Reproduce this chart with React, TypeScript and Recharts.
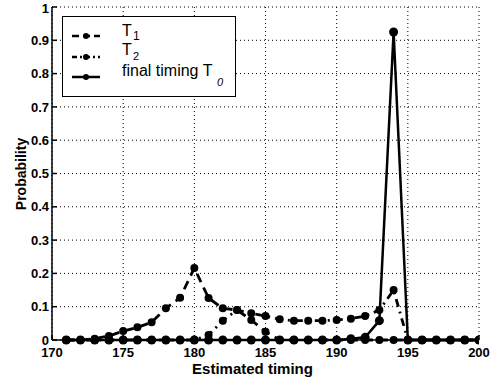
import React from 'react'
import { LineChart, Line, XAxis, YAxis, CartesianGrid, Legend, Label } from 'recharts'

const timing = [171, 172, 173, 174, 175, 176, 177, 178, 179, 180, 181, 182, 183, 184, 185, 186, 187, 188, 189, 190, 191, 192, 193, 194, 195, 196, 197, 198, 199, 200]
const t1 = [0, 0, 0.004, 0.012, 0.027, 0.038, 0.053, 0.095, 0.127, 0.216, 0.126, 0.095, 0.09, 0.06, 0.025, 0, 0, 0, 0, 0, 0, 0, 0, 0, 0, 0, 0, 0, 0, 0]
const t2 = [0, 0, 0, 0, 0, 0, 0, 0, 0, 0, 0.015, 0.058, 0.09, 0.08, 0.072, 0.062, 0.058, 0.058, 0.058, 0.06, 0.064, 0.072, 0.09, 0.15, 0, 0, 0, 0, 0, 0]
const t0 = [0, 0, 0, 0, 0, 0, 0, 0, 0, 0, 0, 0, 0, 0, 0, 0, 0, 0, 0, 0, 0.004, 0.008, 0.058, 0.925, 0, 0, 0, 0, 0, 0]

const xTicks = [170, 175, 180, 185, 190, 195, 200]
const yTicks = [0, 0.1, 0.2, 0.3, 0.4, 0.5, 0.6, 0.7, 0.8, 0.9, 1]

const data = timing.map((x, i) => ({ x, t1: t1[i], t2: t2[i], t0: t0[i] }))

const FONT = '"Liberation Sans", Arial, Helvetica, sans-serif'
const tickStyle = { fill: '#000', fontSize: 13, fontWeight: 700, fontFamily: FONT }
const axisLine = { stroke: '#000', strokeWidth: 1.5 }

// legend rows (sub = subscript after the text)
const legendRows = [
  { label: 'T', sub: '1', dash: '7 4', lineY: 18.5, top: 5.5, subTop: 13, subLeft: 70, subSize: 12 },
  { label: 'T', sub: '2', dash: '5 3 2 3', lineY: 39.5, top: 25, subTop: 33.5, subLeft: 70, subSize: 11 },
  { label: 'final timing T', sub: '0', dash: undefined, lineY: 59.5, top: 45.5, subTop: 60, subLeft: 154, subSize: 11 },
]

const LegendBox = () => (
  <div style={{ position: 'relative', boxSizing: 'border-box', width: 174, height: 81, border: '1.5px solid #000', background: '#fff', fontFamily: FONT, color: '#000' }}>
    {legendRows.map((r, i) => (
      <div key={i}>
        <svg width={32} height={10} style={{ position: 'absolute', left: 7, top: r.lineY - 5 }}>
          <line x1={2} y1={5} x2={30} y2={5} stroke="#000" strokeWidth={2.5} strokeDasharray={r.dash} />
          <circle cx={16} cy={5} r={3} fill="#000" />
        </svg>
        <span style={{ position: 'absolute', left: 59, top: r.top, fontSize: 16, lineHeight: 1, whiteSpace: 'nowrap' }}>{r.label}</span>
        <span style={{ position: 'absolute', left: r.subLeft, top: r.subTop, fontSize: r.subSize, lineHeight: 1, fontStyle: i === 2 ? 'italic' : 'normal' }}>{r.sub}</span>
      </div>
    ))}
  </div>
)

const YLabel = () => (
  <text x={21} y={174} transform="rotate(-90 21 174)" textAnchor="middle" dominantBaseline="central"
    style={{ fill: '#000', fontSize: 14, fontWeight: 700, fontFamily: FONT }}>Probability</text>
)

export default function App() {
  return (
    <div style={{ position: 'absolute', left: 0, top: 0, background: '#fff' }}>
      <LineChart width={490} height={381} data={data} margin={{ top: 7, right: 11, left: 0, bottom: 0 }}>
        <CartesianGrid stroke="#000" strokeWidth={1} strokeDasharray="1 3" />
        <XAxis dataKey="x" type="number" domain={[170, 200]} ticks={xTicks} height={41}
          tick={tickStyle} tickSize={-5} tickMargin={13} tickLine={{ stroke: '#000', strokeWidth: 1.5 }} axisLine={axisLine} allowDataOverflow>
          <Label value="Estimated timing" position="insideBottom" offset={7} dx={-13} style={{ fill: '#000', fontSize: 15, fontWeight: 700, fontFamily: FONT }} />
        </XAxis>
        <XAxis xAxisId="top" orientation="top" dataKey="x" type="number" domain={[170, 200]} ticks={xTicks} height={0}
          tick={false} tickSize={-5} tickLine={{ stroke: '#000', strokeWidth: 1.5 }} axisLine={axisLine} />
        <YAxis type="number" domain={[0, 1]} ticks={yTicks} width={52}
          tick={tickStyle} tickSize={-5} tickMargin={8} tickLine={{ stroke: '#000', strokeWidth: 1.5 }} axisLine={axisLine}>
          <Label content={() => <YLabel />} />
        </YAxis>
        <YAxis yAxisId="right" orientation="right" type="number" domain={[0, 1]} ticks={yTicks} width={0}
          tick={false} tickSize={-5} tickLine={{ stroke: '#000', strokeWidth: 1.5 }} axisLine={axisLine} />
        <Legend layout="horizontal" verticalAlign="middle" align="center" content={() => <LegendBox />}
          wrapperStyle={{ position: 'absolute', left: 62, top: 16, width: 174, height: 81 }} />
        <Line dataKey="t1" name="T1" stroke="#000" strokeWidth={2.8} strokeDasharray="9 6" dot={{ r: 4, fill: '#000', stroke: '#000', strokeWidth: 0 }} isAnimationActive={false} />
        <Line dataKey="t2" name="T2" stroke="#000" strokeWidth={2.8} strokeDasharray="8 5 2 5" dot={{ r: 4, fill: '#000', stroke: '#000', strokeWidth: 0 }} isAnimationActive={false} />
        <Line dataKey="t0" name="final timing T0" stroke="#000" strokeWidth={2.5} dot={{ r: 4.5, fill: '#000', stroke: '#000', strokeWidth: 0 }} isAnimationActive={false} />
      </LineChart>
    </div>
  )
}
